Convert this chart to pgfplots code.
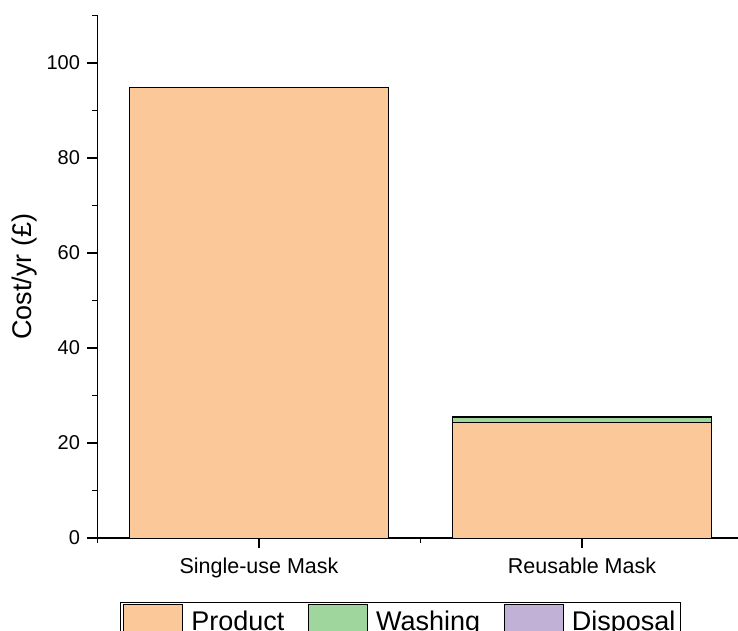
\documentclass[border=0pt]{standalone}
\usepackage{fontspec}
\setmainfont{Liberation Sans}
\usepackage{pgfplots}
\pgfplotsset{compat=1.18}
\definecolor{prodc}{RGB}{251,200,153}
\definecolor{washc}{RGB}{158,214,158}
\definecolor{dispc}{RGB}{194,177,214}
\pgfplotsset{
  boxleg/.style={legend image code/.code={
    \draw[##1, draw=black, line width=0.8bp] (0bp,-13bp) rectangle (59bp,17bp);}},
}
\begin{document}
\begin{tikzpicture}
\begin{axis}[
    scale only axis,
    width=646bp, height=522.5bp,
    ybar stacked,
    bar width=0.8,
    xmin=0.5, xmax=2.5, ymin=0, ymax=110,
    axis x line=bottom, axis y line=left,
    axis line style={-, line width=1.1bp},
    xtick={1,2},
    xticklabels={Single-use Mask, Reusable Mask},
    minor xtick={0.5,1.5,2.5},
    ytick={0,20,...,100},
    minor ytick={10,30,...,110},
    tick align=outside,
    major tick length=10bp, minor tick length=5bp,
    tick style={black, line width=1.1bp},
    /pgf/number format/assume math mode=true,
    yticklabel style={font=\fontsize{20bp}{24bp}\selectfont, xshift=-4bp},
    xticklabel style={font=\fontsize{21.5bp}{25bp}\selectfont, yshift=-6bp},
    ylabel={Cost/yr (£)},
    ylabel style={font=\fontsize{27bp}{32bp}\selectfont},
    ylabel shift=3bp,
    legend columns=3,
    legend style={at={(0.469,-0.122)}, anchor=north, draw=black,
      line width=0.8bp, font=\fontsize{27bp}{31bp}\selectfont,
      /tikz/every odd column/.append style={column sep=6bp},
      /tikz/every even column/.append style={column sep=22bp}},
]
\coordinate (o) at (rel axis cs:0,0);
\addplot[fill=prodc, draw=black, line width=0.8bp, boxleg] coordinates {(1,94.8) (2,24.3)};
\addplot[fill=washc, draw=black, line width=0.8bp, boxleg] coordinates {(1,0) (2,1.1)};
\addplot[fill=dispc, draw=black, line width=0.8bp, boxleg] coordinates {(1,0.05) (2,0.1)};
\legend{Product, Washing, Disposal}
\end{axis}
\pgfresetboundingbox
\path[use as bounding box] ([shift={(-97.5bp,-93bp)}]o) rectangle ++(738bp,631bp);
\end{tikzpicture}
\end{document}
